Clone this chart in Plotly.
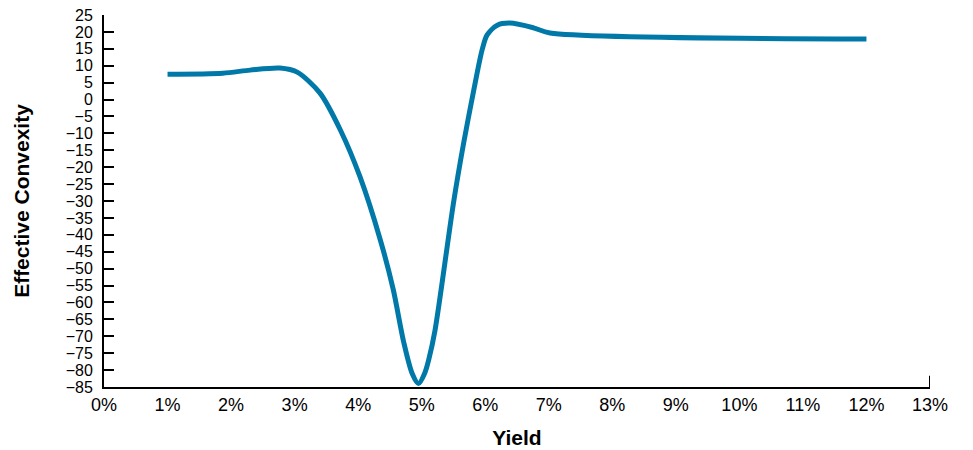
import plotly.graph_objects as go

# yield (%) vs effective convexity
yield_pct = [1.0, 1.87, 2.30, 2.77, 3.04, 3.40, 3.72, 4.03, 4.35, 4.55, 4.72, 4.85, 4.95,
             5.05, 5.11, 5.21, 5.50, 5.66, 5.82, 5.95, 6.03, 6.19, 6.39, 6.76, 7.02, 12.0]
convexity = [7.5, 7.8, 8.7, 9.3, 8.1, 1.9, -9.0, -22.9, -41.6, -56.0, -72.0, -81.0, -84.0,
             -80.8, -77.0, -68.2, -30.6, -12.9, 2.8, 14.6, 19.1, 22.0, 22.6, 21.2, 19.7, 17.9]

x_ticks = list(range(0, 14))
x_labels = [f"{v}%" for v in x_ticks]
y_ticks = list(range(-85, 30, 5))

fig = go.Figure(go.Scatter(
    x=yield_pct, y=convexity,
    mode="lines",
    line=dict(color="#0079a9", width=5, shape="spline", smoothing=0.8),
    showlegend=False,
))

# short end tick at the right end of the x axis
fig.add_shape(type="line", xref="x", yref="paper", x0=13, x1=13, y0=0, y1=0.03,
              line=dict(color="black", width=2))

# margins allow for the page's 8px body margin
fig.update_layout(
    width=973, height=450,
    paper_bgcolor="white", plot_bgcolor="white",
    margin=dict(l=96, r=51, t=7, b=71),
    font=dict(family="Liberation Sans, Arial, sans-serif", color="black"),
    xaxis=dict(
        range=[0, 13], tickvals=x_ticks, ticktext=x_labels,
        showgrid=False, zeroline=False, showline=True,
        linecolor="black", linewidth=2, ticks="",
        tickfont=dict(size=18), automargin=False,
        title=dict(text="<b>Yield</b>", font=dict(size=21), standoff=17),
    ),
    yaxis=dict(
        range=[-85, 25], tickvals=y_ticks,
        showgrid=False, zeroline=False, showline=True,
        linecolor="black", linewidth=2,
        ticks="inside", ticklen=10, tickwidth=1.5, tickcolor="black",
        tickfont=dict(size=16), ticklabelstandoff=6, automargin=False,
        ticklabeloverflow="allow",
        title=dict(text="<b>Effective Convexity</b>", font=dict(size=21), standoff=30),
    ),
)

fig.write_html("out.html")
